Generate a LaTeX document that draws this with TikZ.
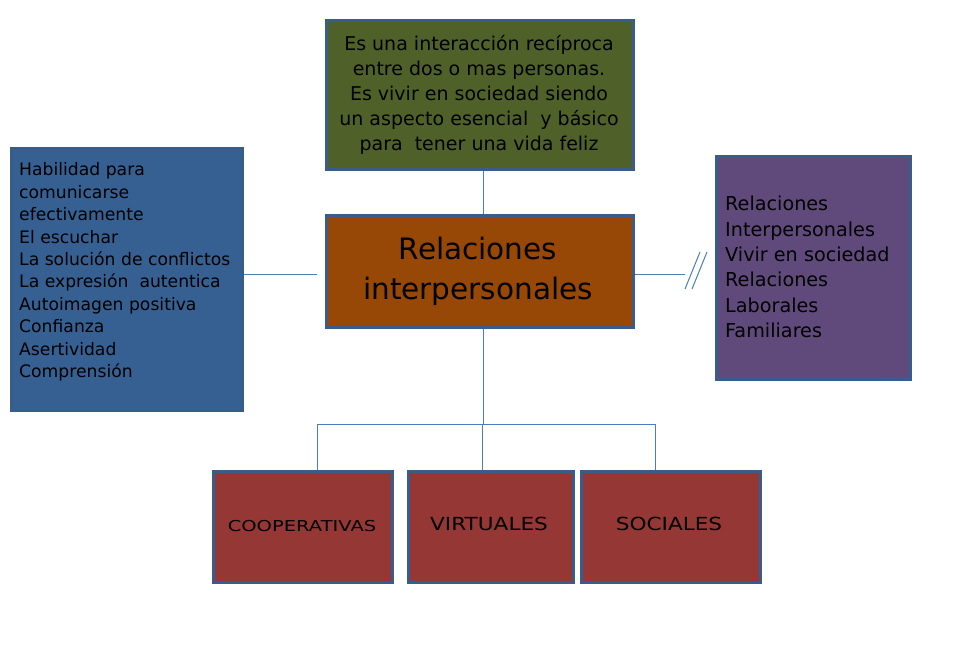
\documentclass[tikz,border=0pt]{standalone}
\usepackage{fontspec}
\setmainfont{DejaVu Sans}
\definecolor{bord}{RGB}{56,93,138}
\definecolor{lineblue}{RGB}{74,126,187}
\definecolor{greenbox}{RGB}{79,97,40}
\definecolor{brownbox}{RGB}{152,72,6}
\definecolor{bluebox}{RGB}{54,96,146}
\definecolor{purplebox}{RGB}{96,74,123}
\definecolor{redbox}{RGB}{149,55,53}
\begin{document}
\begin{tikzpicture}[x=1pt,y=-1pt]
\tikzset{
  box/.style={draw=bord, line width=2.5pt, inner sep=0pt, anchor=north west},
  conn/.style={draw=lineblue, line width=1pt},
  txt/.style={inner sep=0pt, text=black}
}
\useasboundingbox (0,0) rectangle (962,665);
% boxes
\node[box, fill=greenbox, minimum width=307pt, minimum height=149pt] (top) at (325,19) {};
\node[box, fill=brownbox, minimum width=307pt, minimum height=112pt] (center) at (325,214) {};
\node[box, fill=bluebox, minimum width=231pt, minimum height=262pt] (left) at (10,147) {};
\node[box, fill=purplebox, minimum width=194pt, minimum height=223pt] (right) at (715,155) {};
\node[box, fill=redbox, minimum width=179pt, minimum height=111pt] (coop) at (212,470) {};
\node[box, fill=redbox, minimum width=165pt, minimum height=111pt] (virt) at (407,470) {};
\node[box, fill=redbox, minimum width=179pt, minimum height=111pt] (soc) at (580,470) {};
% texts
\node[txt, align=center, font=\fontsize{19}{25}\selectfont] (toptxt) at (479,95)
  {Es una interacción recíproca\\entre dos o mas personas.\\Es vivir en sociedad siendo\\un aspecto esencial\ \ y básico\\para\ \ tener una vida feliz};
\node[txt, align=center, font=\fontsize{29.5}{40}\selectfont] (centxt) at (478,271)
  {Relaciones\\interpersonales};
\node[txt, anchor=west, align=left, font=\fontsize{17.2}{22.4}\selectfont] (lefttxt) at (19,272)
  {Habilidad para\\comunicarse\\efectivamente\\El escuchar\\La solución de conflictos\\La expresión\ \ autentica\\Autoimagen positiva\\Confianza\\Asertividad\\Comprensión};
\node[txt, anchor=west, align=left, font=\fontsize{19.2}{25.3}\selectfont] (righttxt) at (725,267)
  {Relaciones\\Interpersonales\\Vivir en sociedad\\Relaciones\\Laborales\\Familiares};
\node[txt, font=\fontsize{15}{18}\selectfont] (cooptxt) at (302,526) {\scalebox{1.3}[1]{COOPERATIVAS}};
\node[txt, font=\fontsize{18}{20}\selectfont] (virttxt) at (489,524) {\scalebox{1.2}[1]{VIRTUALES}};
\node[txt, font=\fontsize{18}{20}\selectfont] (soctxt) at (669,524) {\scalebox{1.2}[1]{SOCIALES}};
% connectors
\coordinate (cx) at (483,0);
\coordinate (lA) at (244,274);
\coordinate (lB) at (317,274);
\coordinate (rB) at (685,274);
\coordinate (s1a) at (685,289);
\coordinate (s1b) at (700,252);
\coordinate (s2a) at (692,289);
\coordinate (s2b) at (707,252);
\coordinate (hb) at (0,424);
\coordinate (xl) at (317,0);
\coordinate (xm) at (482,0);
\coordinate (xr) at (655,0);
\draw[conn] (top.south -| cx) -- (center.north -| cx);
\draw[conn] (lA) -- (lB);
\draw[conn] (center.east |- rB) -- (rB);
\draw[conn] (s1a) -- (s1b);
\draw[conn] (s2a) -- (s2b);
\draw[conn] (center.south -| cx) -- (cx |- hb);
\draw[conn] (xl |- hb) -- (xr |- hb);
\draw[conn] (xl |- hb) -- (coop.north -| xl);
\draw[conn] (xm |- hb) -- (virt.north -| xm);
\draw[conn] (xr |- hb) -- (soc.north -| xr);
\end{tikzpicture}
\end{document}
